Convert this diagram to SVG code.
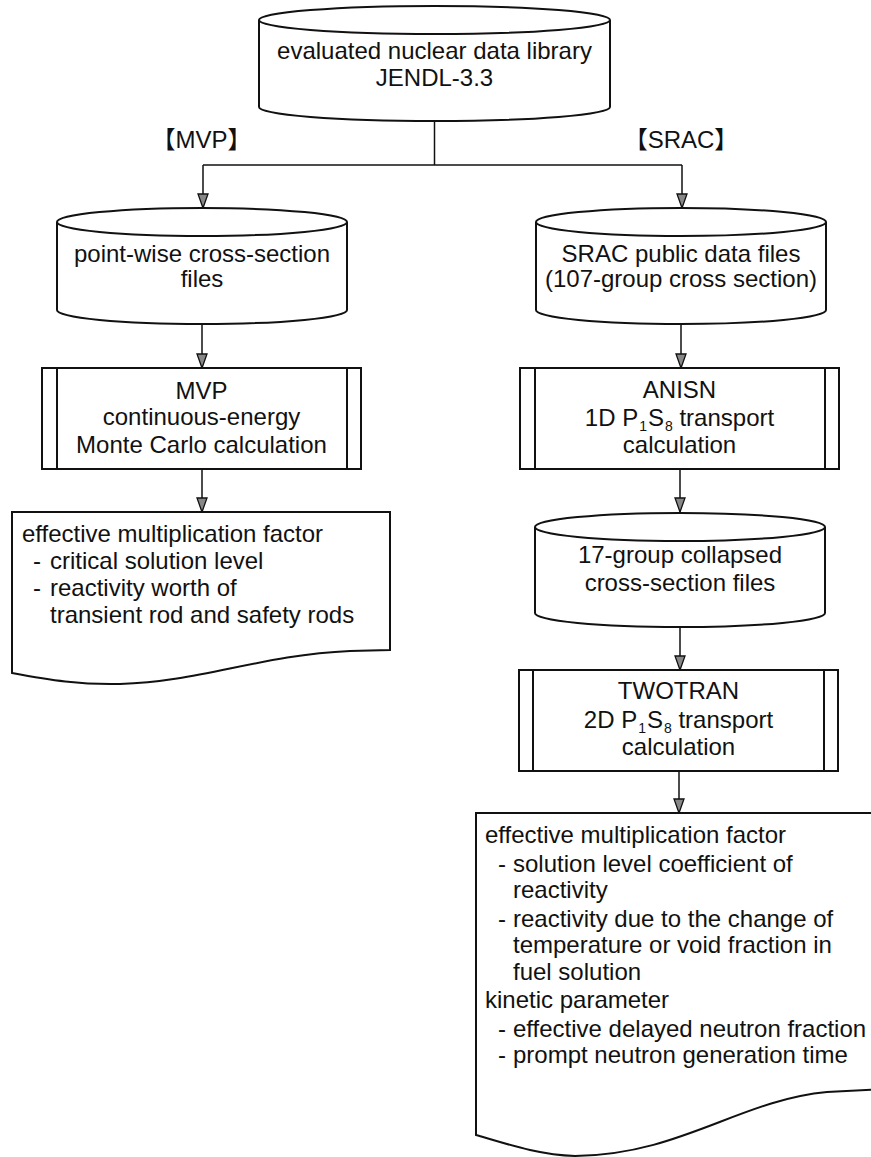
<svg xmlns="http://www.w3.org/2000/svg" width="871" height="1157" viewBox="0 0 871 1157">
<style>
.shape{fill:#fff;stroke:#111;stroke-width:2}
.line{fill:none;stroke:#111;stroke-width:1.5}
.t{font-family:"Liberation Sans","Noto Sans CJK JP",Arial,sans-serif;font-size:24px;fill:#111}
.c{text-anchor:middle}
.sub{font-size:14px}
</style>
<defs>
<marker id="arr" markerUnits="userSpaceOnUse" markerWidth="18" markerHeight="14" refX="15" refY="7" orient="auto" viewBox="0 0 18 14">
<path d="M1,2 L1,12 L15,7 Z" fill="#888" stroke="#111" stroke-width="1.3"/>
</marker>
</defs>
<g id="connectors">
<path class="line" d="M434.5,121 L434.5,165"/>
<path class="line" d="M203,165 L682,165"/>
<path class="line" d="M203,165 L203,208" marker-end="url(#arr)"/>
<path class="line" d="M682,165 L682,208" marker-end="url(#arr)"/>
<path class="line" d="M202,324 L202,368" marker-end="url(#arr)"/>
<path class="line" d="M202,469 L202,512" marker-end="url(#arr)"/>
<path class="line" d="M681,324 L681,368" marker-end="url(#arr)"/>
<path class="line" d="M680,469 L680,512" marker-end="url(#arr)"/>
<path class="line" d="M680,628 L680,670" marker-end="url(#arr)"/>
<path class="line" d="M679,771 L679,813" marker-end="url(#arr)"/>
</g>
<g id="lbl-mvp"><text class="t c" x="201.5" y="148">【MVP】</text></g>
<g id="lbl-srac"><text class="t c" x="681" y="148">【SRAC】</text></g>
<g id="jendl">
<path class="shape" d="M259,20 A175.5,14 0 0 1 610,20 L610,107 A175.5,14 0 0 1 259,107 Z"/>
<path class="line" style="stroke-width:2" d="M259,20 A175.5,14 0 0 0 610,20"/>
<text class="t c" x="434.5" y="59">evaluated nuclear data library</text>
<text class="t c" x="434.5" y="86">JENDL-3.3</text>
</g>
<g id="pointwise">
<path class="shape" d="M57,222 A145,14 0 0 1 347,222 L347,310 A145,14 0 0 1 57,310 Z"/>
<path class="line" style="stroke-width:2" d="M57,222 A145,14 0 0 0 347,222"/>
<text class="t c" x="202" y="262">point-wise cross-section</text>
<text class="t c" x="202" y="287">files</text>
</g>
<g id="srac-files">
<path class="shape" d="M536,222 A145,14 0 0 1 826,222 L826,310 A145,14 0 0 1 536,310 Z"/>
<path class="line" style="stroke-width:2" d="M536,222 A145,14 0 0 0 826,222"/>
<text class="t c" x="681" y="262">SRAC public data files</text>
<text class="t c" x="681" y="287">(107-group cross section)</text>
</g>
<g id="mvp">
<rect class="shape" x="42" y="368" width="319" height="101"/>
<path class="line" style="stroke-width:2" d="M57,368 L57,469 M347,368 L347,469"/>
<text class="t c" x="201.5" y="399">MVP</text>
<text class="t c" x="201.5" y="425">continuous-energy</text>
<text class="t c" x="201.5" y="453">Monte Carlo calculation</text>
</g>
<g id="anisn">
<rect class="shape" x="520" y="368" width="319" height="101"/>
<path class="line" style="stroke-width:2" d="M535,368 L535,469 M825,368 L825,469"/>
<text class="t c" x="679.5" y="398">ANISN</text>
<text class="t c" x="679.5" y="426">1D P<tspan class="sub" dx="1" dy="5">1</tspan><tspan dx="1" dy="-5">S</tspan><tspan class="sub" dx="1" dy="5">8</tspan><tspan dy="-5"> transport</tspan></text>
<text class="t c" x="679.5" y="453">calculation</text>
</g>
<g id="mvp-result">
<path class="shape" d="M12,512 L390,512 L390,650 L350,651 C260,655 200,682 120,684 C80,685 50,680 12,673 Z"/>
<text class="t" x="22" y="542">effective multiplication factor</text>
<text class="t" x="33" y="569">-</text><text class="t" x="50" y="569">critical solution level</text>
<text class="t" x="33" y="596">-</text><text class="t" x="50" y="596">reactivity worth of</text>
<text class="t" x="50" y="623">transient rod and safety rods</text>
</g>
<g id="collapsed">
<path class="shape" d="M535,527 A145,14 0 0 1 825,527 L825,613 A145,14 0 0 1 535,613 Z"/>
<path class="line" style="stroke-width:2" d="M535,527 A145,14 0 0 0 825,527"/>
<text class="t c" x="680" y="563">17-group collapsed</text>
<text class="t c" x="680" y="591">cross-section files</text>
</g>
<g id="twotran">
<rect class="shape" x="519" y="670" width="319" height="101"/>
<path class="line" style="stroke-width:2" d="M533,670 L533,771 M824,670 L824,771"/>
<text class="t c" x="678.5" y="699">TWOTRAN</text>
<text class="t c" x="678.5" y="728">2D P<tspan class="sub" dx="1" dy="5">1</tspan><tspan dx="1" dy="-5">S</tspan><tspan class="sub" dx="1" dy="5">8</tspan><tspan dy="-5"> transport</tspan></text>
<text class="t c" x="678.5" y="755">calculation</text>
</g>
<g id="srac-result">
<path class="shape" d="M476,813 L885,813 L885,1089 L827,1092 C740,1100 680,1155 575,1156 C540,1155 510,1145 476,1135 Z"/>
<text class="t" x="485" y="843">effective multiplication factor</text>
<text class="t" x="498" y="872">-</text><text class="t" x="513" y="872">solution level coefficient of</text>
<text class="t" x="513" y="898">reactivity</text>
<text class="t" x="498" y="927">-</text><text class="t" x="513" y="927">reactivity due to the change of</text>
<text class="t" x="513" y="953">temperature or void fraction in</text>
<text class="t" x="513" y="980">fuel solution</text>
<text class="t" x="485" y="1008">kinetic parameter</text>
<text class="t" x="498" y="1037">-</text><text class="t" x="513" y="1037">effective delayed neutron fraction</text>
<text class="t" x="498" y="1063">-</text><text class="t" x="513" y="1063">prompt neutron generation time</text>
</g>
</svg>
